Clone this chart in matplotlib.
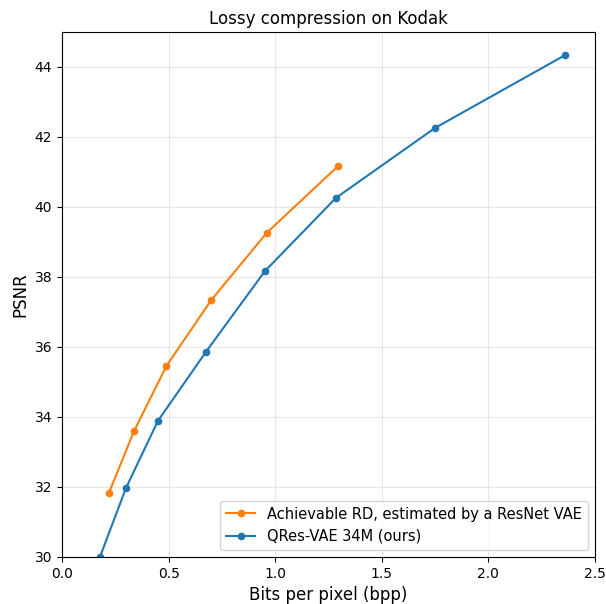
import matplotlib
matplotlib.use("Agg")
import matplotlib.pyplot as plt

# Achievable RD (ResNet VAE estimate)
rd_bpp = [0.22, 0.338, 0.49, 0.70, 0.96, 1.295]
rd_psnr = [31.83, 33.6, 35.46, 37.34, 39.26, 41.17]

# QRes-VAE 34M
qres_bpp = [0.178, 0.30, 0.45, 0.675, 0.952, 1.285, 1.75, 2.36]
qres_psnr = [30.0, 31.97, 33.89, 35.86, 38.17, 40.26, 42.26, 44.34]

fig = plt.figure(figsize=(6.06, 6.04), dpi=100)
ax = fig.add_axes([62 / 606, 1 - 557 / 604, (595 - 62) / 606, (557 - 32) / 604])

ax.plot(rd_bpp, rd_psnr, marker='o', markersize=4.5, color='tab:orange',
        label='Achievable RD, estimated by a ResNet VAE')
ax.plot(qres_bpp, qres_psnr, marker='o', markersize=4.5, color='tab:blue',
        label='QRes-VAE 34M (ours)')

ax.set_xlim(0, 2.5)
ax.set_ylim(30, 45)
ax.set_yticks([30, 32, 34, 36, 38, 40, 42, 44])
ax.grid(True, alpha=0.3)
ax.set_title('Lossy compression on Kodak', fontsize=12)
ax.set_xlabel('Bits per pixel (bpp)', fontsize=12)
ax.set_ylabel('PSNR', fontsize=12)
ax.legend(loc='lower right', fontsize=10.5)

fig.savefig('out.png', dpi=100)
